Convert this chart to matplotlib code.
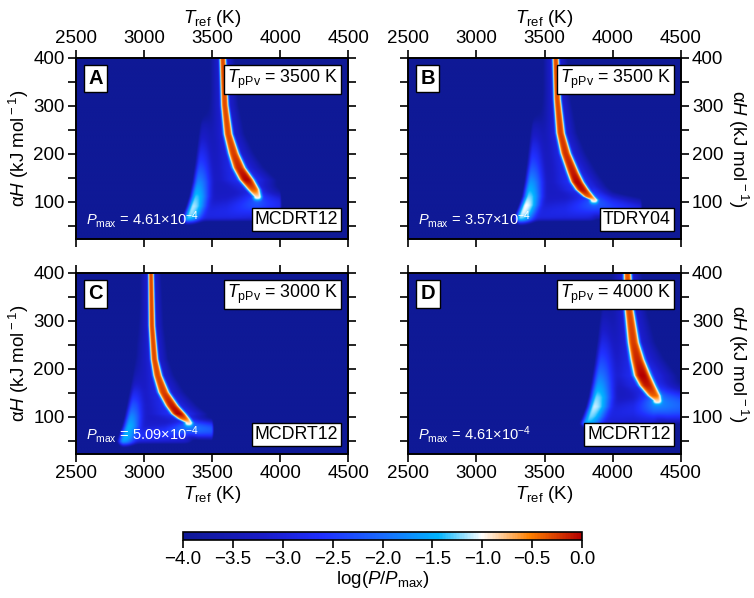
import numpy as np
import matplotlib
matplotlib.use("Agg")
from matplotlib import pyplot as plt
from matplotlib.colors import LinearSegmentedColormap
from matplotlib.ticker import FuncFormatter

plt.rcParams['font.family'] = ['Liberation Sans', 'DejaVu Sans']
plt.rcParams['mathtext.fontset'] = 'custom'
plt.rcParams['mathtext.rm'] = 'Liberation Sans'
plt.rcParams['mathtext.it'] = 'Liberation Sans:italic'
plt.rcParams['mathtext.bf'] = 'Liberation Sans:bold'
plt.rcParams['font.size'] = 13.5

# panel labels and annotations
panel_letters = ['A', 'B', 'C', 'D']
t_ppv = [3500, 3500, 3000, 4000]
model_names = ['MCDRT12', 'TDRY04', 'MCDRT12', 'MCDRT12']
p_max = ['4.61', '3.57', '5.09', '4.61']

# main ridge: alpha*H (kJ/mol), T_ref (K), log10 P/Pmax at core, half width (K)
ridge_h = [
    [110, 125, 145, 170, 200, 240, 300, 400],
    [103, 110, 124, 140, 159, 200, 242, 312, 400],
    [87, 95, 105, 122, 150, 185, 219, 289, 400],
    [133, 143, 164, 185, 219, 254, 324, 400],
]
ridge_t = [
    [3830, 3800, 3750, 3695, 3655, 3615, 3590, 3575],
    [3863, 3826, 3778, 3740, 3711, 3655, 3618, 3594, 3582],
    [3326, 3290, 3252, 3203, 3142, 3098, 3074, 3056, 3049],
    [4328, 4304, 4255, 4218, 4181, 4152, 4120, 4108],
]
ridge_amp = [
    [-0.9, -0.35, 0.0, -0.15, -0.25, -0.3, -0.3, -0.3],
    [-0.9, -0.4, -0.05, 0.0, -0.1, -0.2, -0.25, -0.3, -0.3],
    [-0.9, -0.4, 0.0, -0.1, -0.25, -0.3, -0.3, -0.3, -0.3],
    [-0.9, -0.4, -0.1, 0.0, -0.15, -0.25, -0.3, -0.35],
]
ridge_hw = [
    [52, 68, 76, 68, 58, 48, 40, 34],
    [52, 62, 68, 68, 64, 56, 47, 39, 34],
    [52, 68, 74, 68, 60, 48, 40, 34, 29],
    [56, 74, 86, 88, 74, 62, 50, 42],
]

# secondary lobe on the low-T side
lobe_h = [
    [62, 75, 90, 110, 140, 180, 220, 260, 300],
    [65, 78, 92, 110, 140, 180, 220, 260, 300],
    [48, 60, 80, 100, 125, 150, 175, 200, 230],
    [85, 100, 120, 140, 170, 210, 260, 320, 370],
]
lobe_t = [
    [3320, 3340, 3360, 3380, 3398, 3412, 3422, 3430, 3435],
    [3325, 3345, 3365, 3385, 3400, 3412, 3420, 3425, 3430],
    [2850, 2865, 2890, 2905, 2918, 2928, 2935, 2940, 2945],
    [3815, 3840, 3868, 3885, 3900, 3915, 3928, 3937, 3940],
]
lobe_amp = [
    [-1.35, -1.2, -1.15, -1.35, -1.8, -2.5, -3.1, -3.7, -5.0],
    [-1.2, -1.05, -1.0, -1.25, -1.7, -2.4, -3.0, -3.7, -5.0],
    [-1.55, -1.45, -1.5, -1.8, -2.3, -2.9, -3.6, -4.2, -5.0],
    [-1.45, -1.25, -1.1, -1.25, -1.7, -2.3, -3.0, -3.7, -5.0],
]
lobe_wl = [15, 15, 16, 18]
lobe_wr = [38, 38, 34, 44]

# low-alpha*H tail running to high T
tail_t = [
    [3350, 3600, 3780, 3830, 3900, 4000],
    [3400, 3650, 3830, 3863, 4000, 4210],
    [2900, 3150, 3300, 3326, 3400, 3500],
    [3900, 4150, 4300, 4328, 4400, 4500],
]
tail_h = [
    [70, 80, 95, 100, 95, 92],
    [72, 82, 95, 98, 88, 80],
    [58, 66, 76, 78, 74, 72],
    [100, 115, 128, 130, 125, 122],
]
tail_amp = [
    [-3.4, -3.1, -2.4, -2.2, -2.5, -2.8],
    [-3.4, -3.1, -2.3, -2.1, -2.5, -2.9],
    [-3.0, -2.7, -2.0, -1.9, -2.0, -2.2],
    [-3.4, -3.0, -1.8, -1.7, -1.9, -2.1],
]
tail_hw = [13, 12, 8, 14]
h_floor = [62, 62, 46, 84]
t_cut = [4000, 4210, 3500, 4600]

haze_h = [60, 150, 250, 330]
haze_amp = [-3.1, -3.4, -3.8, -4.6]

T = np.linspace(2500, 4500, 1001)
H = np.linspace(22, 400, 379)
TT, HH = np.meshgrid(T, H)


def sig(x):
    return 1.0 / (1.0 + np.exp(-x))


def panel_field(i):
    rh = np.array(ridge_h[i], float)
    tip = rh[0]
    rc = np.interp(HH, rh, ridge_t[i])
    ra = np.interp(HH, rh, ridge_amp[i])
    rw = np.interp(HH, rh, ridge_hw[i])
    d = TT - rc
    ridge = 10 ** (ra - 3.5 * np.abs(d / rw) ** 3)
    ridge += 10 ** (ra - 2.7) * np.exp(-0.5 * (d / (1.2 * rw)) ** 2)
    ridge *= np.where(HH < tip, np.exp(-0.5 * ((tip - HH) / 4.0) ** 2), 1.0)

    lc = np.interp(HH, lobe_h[i], lobe_t[i])
    la = np.interp(HH, lobe_h[i], lobe_amp[i])
    dl = TT - lc
    lw = np.where(dl < 0, lobe_wl[i], lobe_wr[i])
    lobe = 10 ** la * np.exp(-0.5 * (dl / lw) ** 2)

    tc = np.interp(TT, tail_t[i], tail_h[i])
    ta = np.interp(TT, tail_t[i], tail_amp[i])
    tail = 10 ** ta * np.exp(-0.5 * ((HH - tc) / tail_hw[i]) ** 2)
    tail *= sig((TT - tail_t[i][0]) / 20.0)

    haze = 10 ** np.interp(HH, haze_h, haze_amp)
    haze = haze * sig((TT - lc) / 15.0) * sig((rc - TT) / 15.0)

    p = ridge + lobe + tail + haze
    p *= sig((HH - h_floor[i]) / 2.0) * sig((t_cut[i] - TT) / 3.0)
    p = p / p.max()
    return np.clip(np.log10(p + 1e-12), -4, 0)


cmap = LinearSegmentedColormap.from_list('ppv', [
    (0.00, '#0f1996'),
    (0.20, '#1a1cc8'),
    (0.35, '#2030ff'),
    (0.50, '#1a6cff'),
    (0.64, '#00b4ff'),
    (0.75, '#ffffff'),
    (0.87, '#ff8000'),
    (1.00, '#b40000'),
])

fig = plt.figure(figsize=(7.54, 5.98), dpi=100)
ax_w, ax_h = 0.3614, 0.3032
positions = [(0.1008, 0.6003), (0.5415, 0.6003), (0.1008, 0.2403), (0.5415, 0.2403)]

for i, (x0, y0) in enumerate(positions):
    row, col = divmod(i, 2)
    ax = fig.add_axes([x0, y0, ax_w, ax_h])
    im = ax.imshow(panel_field(i), extent=[2500, 4500, 22, 400], origin='lower',
                   aspect='auto', cmap=cmap, vmin=-4, vmax=0, interpolation='bilinear')
    ax.set_xlim(2500, 4500)
    ax.set_ylim(22, 400)
    ax.set_xticks(np.arange(2500, 4501, 500))
    ax.set_yticks(np.arange(50, 401, 50))
    ax.set_yticklabels(['', '100', '', '200', '', '300', '', '400'])
    ax.tick_params(top=True, bottom=True, left=True, right=True,
                   labeltop=row == 0, labelbottom=row == 1,
                   labelleft=col == 0, labelright=col == 1,
                   direction='out', length=5.5, width=1.2, labelsize=13.5, pad=2.5)
    for s in ax.spines.values():
        s.set_linewidth(1.4)
    ax.set_xlabel(r'$T_{\rm ref}$ (K)', fontsize=13.5, labelpad=5 if row == 0 else 1)
    if row == 0:
        ax.xaxis.set_label_position('top')
    ylab = r'α$H$ (kJ mol$^{\rm -1}$)'
    if col == 0:
        ax.set_ylabel(ylab, fontsize=13.5, labelpad=2)
    else:
        ax.yaxis.set_label_position('right')
        ax.set_ylabel(ylab, fontsize=13.5, rotation=270, labelpad=19)

    ax.text(0.045, 0.938, panel_letters[i], transform=ax.transAxes, ha='left', va='top',
            fontsize=14.5, fontweight='bold',
            bbox=dict(boxstyle='square,pad=0.22', facecolor='white', edgecolor='black', linewidth=1))
    box = dict(boxstyle='square,pad=0.17', facecolor='white', edgecolor='black', linewidth=1)
    ax.text(0.963, 0.945, r'$T_{\rm pPv}$ = %d K' % t_ppv[i], transform=ax.transAxes,
            ha='right', va='top', fontsize=12.8, bbox=box)
    ax.text(0.963, 0.062, model_names[i], transform=ax.transAxes, ha='right', va='bottom',
            fontsize=12.8, bbox=box)
    ax.text(0.037, 0.05, r'$P_{\rm max}$ = %s$\times$10$^{-4}$' % p_max[i],
            transform=ax.transAxes, ha='left', va='bottom', fontsize=10.5, color='white')

cax = fig.add_axes([0.2427, 0.097, 0.5292, 0.0138])
cb = fig.colorbar(im, cax=cax, orientation='horizontal', ticks=np.arange(-4, 0.01, 0.5))
cb.ax.xaxis.set_major_formatter(FuncFormatter(lambda v, _: f'{v:.1f}'.replace('-', '\u2212')))
cb.ax.tick_params(direction='out', length=5.5, width=1.2, labelsize=13.5, pad=2.5)
cb.outline.set_linewidth(1.2)
cb.set_label(r'log($P$/$P_{\rm max}$)', fontsize=13.5, labelpad=1)

fig.savefig('out.png', dpi=100)
